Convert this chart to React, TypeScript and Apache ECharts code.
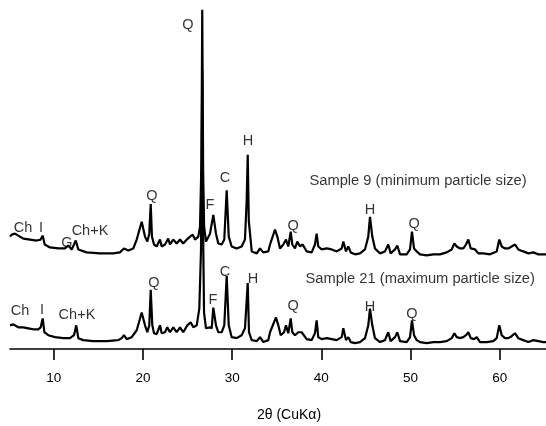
import React, { useEffect, useRef } from "react";
import * as echarts from "echarts";

// 2θ tick values
const xTicks = [10, 20, 30, 40, 50, 60];

// Sample 9 (minimum particle size): 2θ and relative intensity
const s9Theta = [5.08,5.27,5.64,6.01,6.57,7.32,8.07,8.52,8.75,8.97,9.56,10.5,11.25,11.62,12.0,12.26,12.45,12.74,13.68,15.17,16.66,17.41,17.86,18.35,18.91,19.29,19.85,20.22,20.48,20.7,20.86,21.0,21.23,21.53,21.9,22.09,22.46,22.83,23.02,23.39,23.77,24.14,24.51,24.9,25.27,25.57,25.83,26.2,26.39,26.55,26.64,26.74,26.85,27.06,27.51,27.88,28.18,28.44,28.82,29.11,29.38,29.61,29.94,30.5,31.06,31.43,31.62,31.74,31.86,32.19,32.75,33.12,33.49,34.05,34.24,34.8,35.06,35.36,35.73,36.03,36.29,36.56,36.74,37.04,37.3,37.6,37.9,38.35,38.91,39.28,39.47,39.65,40.04,40.6,41.16,41.72,42.28,42.46,42.76,43.02,43.29,43.77,44.33,44.89,45.26,45.45,45.71,46.01,46.57,47.13,47.5,47.77,48.26,48.51,48.82,49.57,49.94,50.16,50.39,50.69,51.06,51.81,52.55,53.3,54.05,54.62,54.91,55.18,55.55,55.92,56.22,56.48,56.75,57.23,57.6,58.16,58.91,59.66,59.95,60.22,60.59,60.96,61.34,61.71,62.08,62.64,63.21,63.77,64.33,64.89,65.19];
const s9Counts = [114,116,117,115,112,111,110,111,115,106,103,102,102,105,101,106,110,101,98,97,97,98,102,100,102,111,129,114,109,117,147,114,106,104,111,104,106,112,106,111,107,111,107,111,114,116,111,114,124,190,344,180,124,109,117,136,117,107,106,111,161,114,104,102,104,111,150,197,130,99,97,102,98,99,106,121,114,102,106,111,104,119,106,102,109,104,106,99,98,106,117,104,101,102,101,99,102,109,99,104,98,96,97,101,114,134,114,102,97,99,106,97,101,105,96,96,101,119,102,99,96,95,96,96,98,101,107,104,102,102,106,111,102,101,97,97,96,99,111,104,102,102,104,106,101,99,97,98,96,96,96];

// Sample 21 (maximum particle size)
const s21Theta = [5.08,5.45,6.01,6.57,7.13,7.69,8.25,8.52,8.75,8.93,9.37,10.13,11.06,11.81,12.26,12.51,12.74,13.3,14.42,15.92,17.22,17.61,17.86,18.17,18.73,19.29,19.85,20.22,20.48,20.7,20.86,21.04,21.23,21.53,21.9,22.09,22.46,22.72,23.02,23.39,23.77,24.14,24.51,24.96,25.34,25.64,26.02,26.31,26.5,26.64,26.76,26.84,27.06,27.51,27.7,27.88,28.18,28.44,28.82,29.11,29.38,29.61,29.94,30.5,31.06,31.43,31.74,31.88,32.19,32.75,33.12,33.49,34.05,34.24,34.91,35.17,35.44,35.81,36.03,36.29,36.56,36.74,37.04,37.41,37.79,38.35,38.91,39.28,39.47,39.65,40.04,40.6,41.16,41.72,42.28,42.46,42.76,43.02,43.29,43.77,44.33,44.89,45.26,45.45,45.71,46.01,46.57,47.13,47.5,47.77,48.26,48.51,48.82,49.57,49.94,50.16,50.39,50.69,51.06,51.81,52.55,53.3,54.05,54.62,54.91,55.18,55.55,55.92,56.22,56.48,56.75,57.12,57.42,57.79,58.54,59.28,59.66,59.95,60.22,60.59,60.96,61.34,61.71,62.08,62.64,63.21,63.77,64.33,64.89,65.19];
const s21Counts = [24,25,22,22,21,20,20,22,31,17,14,12,11,11,14,24,11,9,8,8,9,11,14,10,12,19,37,24,17,24,60,24,16,15,24,16,17,22,17,22,17,22,17,24,27,22,24,41,100,282,100,37,21,22,21,42,24,17,17,24,74,24,12,11,14,21,67,17,9,8,12,7,9,17,32,24,14,17,24,16,31,17,14,17,17,10,9,16,29,12,10,11,10,9,12,21,9,12,7,6,7,11,24,41,24,11,7,9,17,8,12,17,8,7,12,29,14,9,7,6,7,7,8,11,16,12,11,12,14,17,11,10,12,7,7,8,11,24,14,11,11,13,16,11,9,7,9,8,7,7];

// Phase annotations (label, 2θ, level)
const peakLabels = ["Q","H","C","Q","F","Q","H","Q","Ch","I","G","Ch+K","C","H","Q","F","Q","H","Q","Ch","I","Ch+K"];
const peakTheta = [25.04,31.77,29.19,21.0,27.51,36.82,45.45,50.39,6.54,8.56,11.47,14.05,29.19,32.33,21.23,27.84,36.82,45.45,50.16,6.2,8.67,12.59];
const peakLevel = [330,212,174,156,147,126,142,128,124,124,109,121,79,72,68,51,45,44,37,40,41,35];

const sampleNames = ["Sample 9 (minimum particle size)", "Sample 21 (maximum particle size)"];
const sampleTheta = [38.61, 38.16];
const sampleLevel = [171, 72];

const FONT = "'Liberation Sans', Arial, Helvetica, sans-serif";
const TXT = "#000";

export default function App() {
  const ref = useRef<HTMLDivElement>(null);
  useEffect(() => {
    if (!ref.current) return;
    const chart = echarts.init(ref.current, undefined, { renderer: "svg" });
    const zip = (xs: number[], ys: number[]) => xs.map((x, i) => [x, ys[i]]);
    chart.setOption({
      animation: false,
      grid: { left: 10, right: 0, top: 0, bottom: 72 },
      xAxis: {
        type: "value",
        min: 5.08,
        max: 65.19,
        name: "2θ (CuKα)",
        nameLocation: "middle",
        nameGap: 58,
        nameTextStyle: { fontFamily: FONT, fontSize: 14, color: TXT, padding: [0, 0, 0, 22] },
        axisLine: { show: true, lineStyle: { color: "#000", width: 1.6 } },
        axisTick: { show: true, inside: false, length: 11, customValues: xTicks, lineStyle: { color: "#000", width: 1.6 } },
        axisLabel: { customValues: xTicks, margin: 21, fontFamily: FONT, fontSize: 13.5, color: TXT },
        splitLine: { show: false },
      },
      yAxis: { type: "value", min: 0, max: 354, show: false, splitLine: { show: false } },
      series: [
        {
          name: "Sample 9",
          type: "line",
          data: zip(s9Theta, s9Counts),
          symbol: "none",
          lineStyle: { color: "#000", width: 2.2 },
        },
        {
          name: "Sample 21",
          type: "line",
          data: zip(s21Theta, s21Counts),
          symbol: "none",
          lineStyle: { color: "#000", width: 2.2 },
        },
        {
          type: "scatter",
          symbolSize: 1,
          itemStyle: { color: "transparent" },
          data: peakLabels.map((n, i) => ({ name: n, value: [peakTheta[i], peakLevel[i]] })),
          label: { show: true, position: "inside", formatter: "{b}", fontFamily: FONT, fontSize: 14.5, color: TXT },
          silent: true,
        },
        {
          type: "scatter",
          symbolSize: 1,
          itemStyle: { color: "transparent" },
          data: sampleNames.map((n, i) => ({ name: n, value: [sampleTheta[i], sampleLevel[i]] })),
          label: { show: true, position: "right", distance: 0, formatter: "{b}", fontFamily: FONT, fontSize: 14.7, color: TXT },
          silent: true,
        },
      ],
    });
    return () => chart.dispose();
  }, []);
  return <div ref={ref} style={{ position: "fixed", left: 0, top: 0, width: 546, height: 426 }} />;
}
